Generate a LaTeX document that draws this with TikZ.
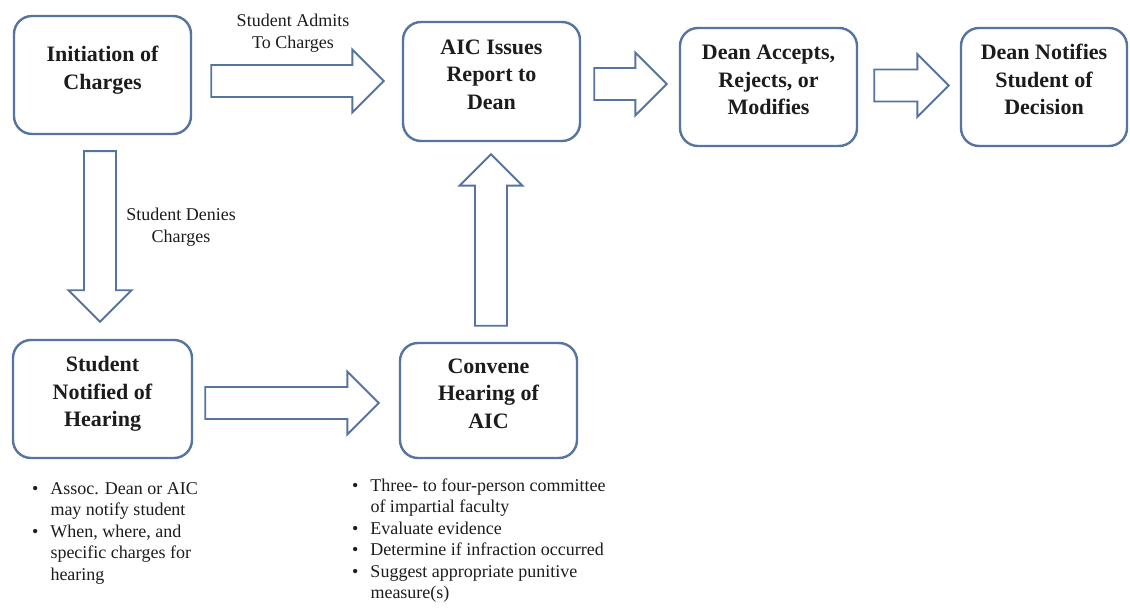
\documentclass[tikz,border=0pt]{standalone}
\usepackage{fontspec}
\setmainfont{Liberation Serif}
\usetikzlibrary{calc}
\definecolor{framecol}{RGB}{86,116,160}
\definecolor{inkcol}{RGB}{28,28,28}
\def\arrshaft{16}
\def\arrhead{31.5}
\def\arrlen{31.5}
\newcommand{\stagetxt}[1]{\raisebox{5pt}[\height][\depth]{\begin{tabular}{@{}c@{}}#1\end{tabular}}}
% right-pointing block arrow: tail, tip
\newcommand{\rarrow}[2]{\draw[blockarrow] ($(#1)+(0,-\arrshaft)$) -- ($(#2|-#1)+(-\arrlen,-\arrshaft)$) -- ($(#2|-#1)+(-\arrlen,-\arrhead)$) -- (#2|-#1) -- ($(#2|-#1)+(-\arrlen,\arrhead)$) -- ($(#2|-#1)+(-\arrlen,\arrshaft)$) -- ($(#1)+(0,\arrshaft)$) -- cycle;}
% vertical block arrow: tail, tip, -1 down / 1 up
\newcommand{\varrow}[3]{\draw[blockarrow] ($(#1)+(-\arrshaft,0)$) -- ($(#1|-#2)+(-\arrshaft,#3*\arrlen)$) -- ($(#1|-#2)+(-\arrhead,#3*\arrlen)$) -- (#1|-#2) -- ($(#1|-#2)+(\arrhead,#3*\arrlen)$) -- ($(#1|-#2)+(\arrshaft,#3*\arrlen)$) -- ($(#1)+(\arrshaft,0)$) -- cycle;}
\tikzset{
  stage/.style={draw=framecol, line width=2.4pt, rounded corners=18pt, minimum width=177pt, minimum height=118pt, inner sep=0pt, font=\fontsize{22}{27.5}\selectfont\bfseries, text=inkcol},
  blockarrow/.style={draw=framecol, line width=1.9pt, fill=white},
  note/.style={font=\fontsize{18}{21.5}\selectfont, text=inkcol, inner sep=0pt, align=center},
}

\begin{document}
\begin{tikzpicture}[x=1pt,y=-1pt]
\useasboundingbox (0,0) rectangle (1130,609);

\node[stage] (init) at (102.5,75) {\stagetxt{Initiation of\\Charges}};
\node[stage, minimum height=119pt] (issue) at (491.5,81.5) {\stagetxt{AIC Issues\\Report to\\Dean}};
\node[stage] (dean) at (768.5,87) {\stagetxt{Dean Accepts,\\Rejects, or\\Modifies}};
\node[stage, minimum width=166pt] (notify) at (1044,87) {\stagetxt{Dean Notifies\\Student of\\Decision}};
\node[stage, minimum width=179pt] (notified) at (102.5,399) {\stagetxt{Student\\Notified of\\Hearing}};
\node[stage, minimum height=115pt] (convene) at (488.5,400.5) {\stagetxt{Convene\\Hearing of\\AIC}};

% arrow ends
\coordinate (admitT) at ($(init.east)+(19,6)$);
\coordinate (admitH) at ($(issue.west)+(-18,0)$);
\coordinate (reportT) at ($(issue.east)+(13,2.5)$);
\coordinate (reportH) at ($(dean.west)+(-12,0)$);
\coordinate (decideT) at ($(dean.east)+(16,-1.5)$);
\coordinate (decideH) at ($(notify.west)+(-11,0)$);
\coordinate (denyT) at ($(init.south)+(-2.5,16)$);
\coordinate (denyH) at ($(notified.north)+(0,-17)$);
\coordinate (hearT) at ($(notified.east)+(12,4)$);
\coordinate (hearH) at ($(convene.west)+(-20,0)$);
\coordinate (findT) at ($(convene.north)+(2.5,-16)$);
\coordinate (findH) at ($(issue.south)+(0,12)$);

\rarrow{admitT}{admitH}
\rarrow{reportT}{reportH}
\rarrow{decideT}{decideH}
\varrow{denyT}{denyH}{-1}
\rarrow{hearT}{hearH}
\varrow{findT}{findH}{1}

\node[note] (admits) at (293,33) {Student Admits\\To Charges};
\node[note] (denies) at (181,227) {Student Denies\\Charges};

\node[note, anchor=north west, align=left] (hearnotes) at (32,479) {\begin{tabular}{@{}l@{\hspace{12pt}}l@{}}
\textbullet & Assoc. Dean or AIC\\
 & may notify student\\
\textbullet & When, where, and\\
 & specific charges for\\
 & hearing
\end{tabular}};
\node[note, anchor=north west, align=left] (aicnotes) at (352,476) {\begin{tabular}{@{}l@{\hspace{12pt}}l@{}}
\textbullet & Three- to four-person committee\\
 & of impartial faculty\\
\textbullet & Evaluate evidence\\
\textbullet & Determine if infraction occurred\\
\textbullet & Suggest appropriate punitive\\
 & measure(s)
\end{tabular}};
\end{tikzpicture}
\end{document}
